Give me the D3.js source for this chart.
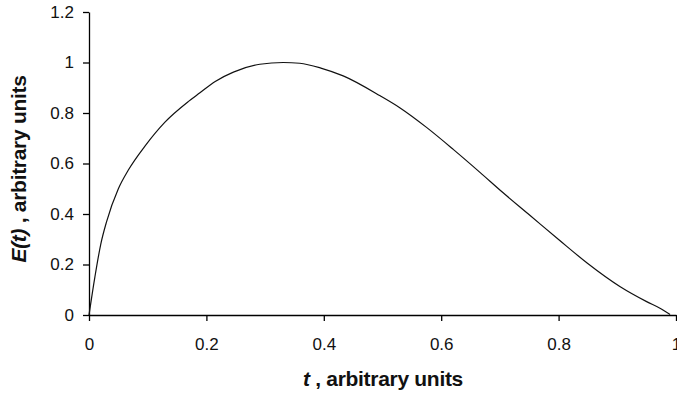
<!DOCTYPE html>
<html><head><meta charset="utf-8">
<script src="https://cdn.jsdelivr.net/npm/d3@7"></script>
<style>body{margin:0;background:#fff}svg{display:block}text{font-family:"Liberation Sans",Arial,sans-serif}</style>
</head><body><svg id="c" width="677" height="394"></svg>
<script>
const tValues = [0, 0.01, 0.02, 0.03, 0.05, 0.067, 0.095, 0.129, 0.169, 0.189, 0.215, 0.246, 0.291, 0.331, 0.359, 0.395, 0.433, 0.496, 0.53, 0.575, 0.621, 0.666, 0.705, 0.751, 0.802, 0.848, 0.905, 0.95, 0.975, 0.99];
const eValues = [0, 0.15, 0.28, 0.37, 0.50, 0.574, 0.668, 0.763, 0.845, 0.88, 0.925, 0.962, 0.993, 1.0, 0.997, 0.978, 0.947, 0.868, 0.82, 0.743, 0.655, 0.565, 0.485, 0.395, 0.295, 0.207, 0.112, 0.053, 0.024, 0.002];
const xTicks = [0, 0.2, 0.4, 0.6, 0.8, 1];
const yTicks = [0, 0.2, 0.4, 0.6, 0.8, 1, 1.2];
const xTickLabels = ["0", "0.2", "0.4", "0.6", "0.8", "1"];
const yTickLabels = ["0", "0.2", "0.4", "0.6", "0.8", "1", "1.2"];

const svg = d3.select("#c");
const x = d3.scaleLinear().domain([0, 1]).range([89, 676]);
const y = d3.scaleLinear().domain([0, 1.2]).range([315, 12]);

const xAxis = svg.append("g").attr("transform", "translate(0,315)")
  .call(d3.axisBottom(x).tickValues(xTicks).tickFormat((d, i) => xTickLabels[i]).tickSize(6).tickSizeOuter(0).tickPadding(17));
const yAxis = svg.append("g").attr("transform", "translate(89,0)")
  .call(d3.axisLeft(y).tickValues(yTicks).tickFormat((d, i) => yTickLabels[i]).tickSize(6).tickSizeOuter(0).tickPadding(9));
[xAxis, yAxis].forEach(a => {
  a.selectAll("path").attr("stroke", "#000").attr("stroke-width", 1.3);
  a.selectAll("line").attr("stroke", "#000").attr("stroke-width", 1.3);
  a.selectAll("text").attr("font-size", 17).attr("fill", "#111").style("font-family", '"Liberation Sans",Arial,sans-serif');
});

const data = tValues.map((t, i) => [t, eValues[i]]);
svg.append("path").datum(data)
  .attr("fill", "none").attr("stroke", "#111").attr("stroke-width", 1.2)
  .attr("d", d3.line().x(d => x(d[0])).y(d => y(d[1])).curve(d3.curveMonotoneX));

svg.append("text").attr("x", 383).attr("y", 386).attr("text-anchor", "middle")
  .attr("font-size", 21).attr("font-weight", "bold").attr("fill", "#111").attr("letter-spacing", -0.3)
  .html('<tspan font-style="italic">t</tspan> , arbitrary units');
svg.append("text").attr("transform", "translate(26,169) rotate(-90)").attr("text-anchor", "middle")
  .attr("font-size", 21).attr("font-weight", "bold").attr("fill", "#111").attr("letter-spacing", -0.3)
  .html('<tspan font-style="italic">E(t)</tspan> , arbitrary units');
</script></body></html>
